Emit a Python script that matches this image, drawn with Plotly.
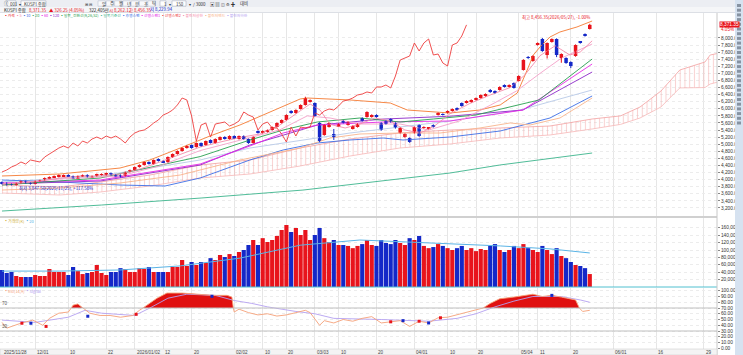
import plotly.graph_objects as go

# ---------------- data ----------------
OPEN = [3932,3904,3876,3848,3904,3960,3904,3876,3960,3988,4045,4073,4073,4101,4130,4101,4045,4101,4130,4073,
        4101,4130,4130,4186,4130,4130,4101,4215,4271,4355,4412,4497,4440,4582,4525,4497,4638,4723,4808,4892,
        4977,4920,5034,4977,5118,5034,5118,5203,5147,5231,5147,5231,5147,5034,5373,5316,5345,5401,5486,5599,
        5684,5938,5882,5994,6108,6192,6164,5599,5260,5486,5288,5514,5655,5542,5430,5486,5740,5768,5768,5825,
        5599,5655,5712,5599,5316,5203,5175,5316,5542,5458,5430,5542,5825,5853,5882,5938,6022,6164,6164,6192,
        6249,6305,6362,6531,6503,6531,6672,6616,6729,6785,7096,7463,7350,7802,7972,7520,7887,7972,7435,7435,
        7322,7491,7887,8113,8254]
HIGH = [3950,3925,3890,3915,3975,3975,3920,3975,4000,4060,4090,4115,4145,4145,4150,4115,4115,4145,4150,4115,
        4170,4175,4200,4200,4150,4145,4230,4285,4370,4430,4510,4515,4570,4600,4540,4655,4740,4825,4910,4965,
        4990,5050,5050,5105,5135,5165,5220,5225,5250,5250,5245,5250,5160,5220,5390,5390,5415,5500,5615,5700,
        5845,5960,5985,6125,6340,6265,6180,5620,5560,5615,5430,5590,5675,5645,5530,5590,5760,5930,5845,5845,
        5620,5675,5730,5620,5475,5305,5190,5500,5560,5505,5475,5560,5900,5870,5955,6010,6040,6180,6240,6265,
        6320,6405,6435,6560,6520,6635,6690,6690,6745,6945,7400,7490,7510,7875,8000,7875,7990,7990,7565,7455,
        7340,7820,7905,8130,8400]
LOW = [3860,3830,3835,3830,3890,3890,3860,3860,3945,3975,4030,4060,4060,4085,4085,4030,4030,4085,4060,4060,
       4085,4115,4115,4115,4085,4060,4085,4200,4255,4340,4395,4425,4425,4510,4480,4480,4620,4705,4790,4875,
       4875,4905,4930,4960,5020,5020,5105,5130,5130,5160,5130,5130,5010,5020,5300,5300,5330,5385,5470,5585,
       5670,5860,5865,5980,6090,6175,5780,5060,5240,5470,5120,5500,5585,5525,5415,5470,5640,5750,5750,5750,
       5380,5555,5610,5440,5300,5185,5040,5300,5210,5440,5415,5470,5810,5810,5865,5920,5950,6060,6150,6175,
       6235,6290,6345,6450,6430,6515,6600,6600,6570,6770,7080,7410,7330,7785,7610,7420,7870,7460,7300,7270,
       7150,7470,7840,8040,8240]
CLOSE = [3876,3848,3848,3904,3960,3904,3876,3960,3988,4045,4073,4101,4130,4130,4101,4045,4101,4130,4073,4101,
         4158,4158,4186,4130,4101,4073,4215,4271,4355,4412,4497,4440,4554,4525,4497,4638,4723,4808,4892,4949,
         4892,5034,4949,5090,5034,5147,5203,5147,5231,5175,5231,5147,5034,5203,5316,5373,5401,5486,5599,5684,
         5825,5882,5966,6108,6305,6249,5797,5090,5542,5599,5203,5570,5599,5627,5514,5570,5655,5910,5825,5768,
         5401,5570,5627,5458,5458,5288,5062,5486,5231,5486,5458,5486,5882,5825,5938,5994,5966,6079,6220,6249,
         6305,6390,6418,6475,6446,6616,6616,6672,6588,6926,7378,7435,7491,7859,7633,7859,7972,7520,7548,7294,
         7209,7802,7859,8056,8371]
VOLUME = [46000,37800,40500,29700,27000,27000,27000,32400,29700,29700,48600,40500,40500,40500,32400,54000,43000,35000,37800,40500,
          59500,37800,32400,40500,40500,51000,48600,40500,40500,51000,48600,54000,40500,40500,40500,40500,54000,54000,73000,56800,
          67600,59500,67600,65000,78000,73000,86500,81000,89000,83800,94600,100000,113500,127000,113500,132000,121600,127000,138000,154000,
          167600,148600,159500,140500,154000,127000,140500,159500,132000,121600,127000,113500,113500,111000,105000,111000,116000,127000,113500,111000,
          127000,119000,116000,127000,119000,113500,132000,127000,138000,111000,105000,108000,116000,111000,105000,100000,105000,111000,100000,105000,
          97000,102700,100000,111000,116000,100000,94600,100000,111000,105000,116000,105000,100000,94600,111000,100000,89000,105000,83800,78000,
          67600,59500,56800,51000,35000]
CHIKOU_SHIFT = 26   # lagging span = closes drawn 26 bars back

# indicator lines: knot index positions and values
BBU_X = [0,12.2,24.9,31.2,37.6,43.9,50.2,56.5,62.9,64.4,73.4,81.9,85.5,94.5,100.8,105.1,108.7,110.8,112.1,113.5,115.6,117.7,121.3,124.5]
BBU_Y = [4102,4158,4327,4554,4892,5232,5542,5910,6277,6305,6249,6164,5966,5881,5966,6108,6446,7096,7520,7746,8028,8169,8311,8480]
BBL_X = [0,12.2,24.9,37.6,50.2,62.9,69.2,75.5,83.9,92.4,100.8,107.2,111.4,117.7,124.5]
BBL_Y = [3706,3762,3904,4130,4554,4892,5175,5288,5316,5316,5458,5600,5542,5740,6305]
MA5_X = [0,4,8,12.2,16.5,20.7,24.9,29.1,33.3,37.6,41.8,46,50.2,54.4,58.6,62.9,65,67.1,69.2,72.4,75.5,78.7,81.9,85,88.2,91.3,94.5,98.7,103,107.2,110.3,113.5,116.7,119.8,122,124.5]
MA5_Y = [3876,3904,3960,4045,4101,4101,4158,4300,4497,4720,4920,5060,5190,5288,5540,5940,6136,5966,5560,5458,5570,5740,5655,5401,5316,5520,5860,6150,6390,6600,6954,7500,7780,7520,7605,7920]
MA10_X = [0,12.2,24.9,33.3,41.8,50.2,58.6,64.4,69.2,75.5,84,90,96.6,103,108.5,113.5,118,124.5]
MA10_Y = [3876,4016,4101,4390,4820,5119,5405,5800,5740,5570,5570,5400,5660,6100,6500,7000,7430,7830]
MA20_X = [0,20.7,41.8,52.3,59.3,66.5,75.5,84,91,100,113.3,124.5]
MA20_Y = [3847,4045,4650,5119,5401,5627,5740,5627,5712,5825,6249,7406]
MA60_X = [0,20.7,41.8,52.3,59.3,66.5,80.4,94.5,109.9,124.5]
MA60_Y = [3904,3988,4440,4949,5316,5542,5627,5655,5966,7265]
MA120_X = [0,20.7,41.8,52.3,66.5,80.4,94.5,109.9,124.5]
MA120_Y = [3876,3960,4412,4977,5540,5710,5790,5966,7039]
KIJUN_X = [0,12.2,24.9,34.4,41.8,52.3,59.3,66.5,73.4,80.4,84.6,94.5,105.1,115.6,124.5]
KIJUN_Y = [3988,3932,3847,3819,4045,4554,4836,5034,5119,5175,5119,5203,5373,5740,6362]
LIGHT_X = [0,20.7,41.8,52.3,73.4,94.5,109.3,124.5]
LIGHT_Y = [3932,4102,4554,4892,5316,5655,5966,6531]
LONG_X = [0,21,42,63.5,94.5,105,124.5]
LONG_Y = [3112,3282,3480,3705,4186,4412,4751]
CLOUD_X = [0,12.2,20.7,31.2,41.8,52.3,62.9,73.4,83.9,94.5,105.1,115.6,124.5,130.5,134.6,139,143,146.2,148.3,149.4,150.84]
SPAN_A = [3847,3791,3932,4130,4412,4554,4892,5147,5316,5401,5458,5514,5712,5800,6050,6500,7096,7237,7322,7520,7560]
SPAN_B = [3621,3565,3649,3819,4045,4158,4384,4666,4892,5005,5175,5260,5430,5560,5740,6050,6590,6600,6600,6700,6750]
VOLMA_X = [0,12.2,24.9,37.6,50.2,62.9,75.5,92.4,105.1,115.6,124]
VOLMA_Y = [43000,43000,46000,57000,78000,113000,127000,119000,111000,103000,92000]
RSI_X = [0,1,3.8,6.5,8.6,10,12,14,14.6,15,16,17,18.5,20.7,22.8,25,27.6,29,29.8,30.6,32.7,34.8,38,41.8,44.5,47.5,48.5,48.8,49,
         50,52,54,56,58,60,62,64,65,66,67,68,70,72,74,76,78,80,82,84,86,88,90,92,94,96,98,100,101.5,103,105,108,110,112,114,116,118,120,121,121.8,122.5,124]
RSI_Y = [45,35,43,49,40,52,61,63,70,75,77,70,61,57,57,54,57,66,70,75,87,96,96,94,92,92,89,70,63,
         68,62,58,60,56,58,62,66,62,50,40,48,44,50,47,52,55,44,46,48,38,47,44,53,54,58,62,66,70,78,86,89,92,94,90,92,89,86,84,70,64,66]
SIG_X = [0,7,14,17.5,21,28,31.2,35,39,45,49,52.7,56,62,66,70,80,90,96,100,104,108,112,118,122,124]
SIG_Y = [49,45,54,66,61,57,70,87,94,92,83,78,72,64,60,52,50,47,52,60,72,82,90,90,84,80]
SIGNAL_UP_X = [4.2, 9.3, 28.3, 82, 88, 92.5]
SIGNAL_UP_Y = [43.5, 38, 59, 46, 47, 53]
SIGNAL_DN_X = [6.1, 18.1, 44.3, 84.6, 90, 116]
SIGNAL_DN_Y = [43.5, 55.7, 90.4, 48, 44, 92]

DATE_LABELS = ["2025/11/28","12/01","10","22","2026/01/02","12","20","02/02","10","20","03/03","10","20",
               "04/01","10","20","05/04","11","20","06/01","16","29"]
DATE_POS = [0,7,14,22,28,34,40,49,55,60,66,71,79,87,94,100,109,113,120,129,138,148]
PRICE_TICKS = [3200,3400,3600,3800,4000,4200,4400,4600,4800,5000,5200,5400,5600,5800,6000,6200,6400,6600,6800,7000,7200,7400,7600,7800,8000]
VOL_TICKS = [20000,40000,60000,80000,100000,120000,140000,160000]
OSC_TICKS = [0,10,20,30,40,50,60,70,80,90,100]

RED = '#e8141c'
BLUE = '#1428c8'
H_PLOT = 336.0   # plot-area height in px (t=13, b=6)
W_PLOT = 717.0

def py(px):
    return (349 - px) / H_PLOT

def pxx(px):
    return px / W_PLOT

fig = go.Figure()
n = len(CLOSE)
idx = list(range(n))
up = [c >= o for o, c in zip(OPEN, CLOSE)]
ccol = [RED if u else BLUE for u in up]

# cloud (span B first, A filled to it)
fig.add_trace(go.Scatter(x=CLOUD_X, y=SPAN_B, mode='lines', line=dict(color='#f6b8b8', width=0.8), hoverinfo='skip'))
fig.add_trace(go.Scatter(x=CLOUD_X, y=SPAN_A, mode='lines', line=dict(color='#f3a0a0', width=0.8), fill='tonexty',
                         fillcolor='rgba(255,255,255,0)',
                         fillpattern=dict(shape='|', fgcolor='#f4a6a6', bgcolor='rgba(255,255,255,0)', size=4.74, solidity=0.22),
                         hoverinfo='skip'))

def line(xs, ys, color, w=0.9):
    fig.add_trace(go.Scatter(x=xs, y=ys, mode='lines', line=dict(color=color, width=w), hoverinfo='skip'))

line(LONG_X, LONG_Y, '#3cb48c')
line(LIGHT_X, LIGHT_Y, '#b8cae8')
line(KIJUN_X, KIJUN_Y, '#3c6ee6')
line(MA120_X, MA120_Y, '#8c28c8')
line(MA60_X, MA60_Y, '#e628e6')
line(MA20_X, MA20_Y, '#28a050')
line(BBL_X, BBL_Y, '#f8b48c')
line(BBU_X, BBU_Y, '#f57a32')
line(MA10_X, MA10_Y, '#f4a0c8')
line(MA5_X, MA5_Y, '#f58caa')
chik_x = [i - CHIKOU_SHIFT for i in idx if i >= CHIKOU_SHIFT]
chik_y = [CLOSE[i] for i in idx if i >= CHIKOU_SHIFT]
line(chik_x, chik_y, '#ee3c3c')

# candles: wicks + bodies
for flag, col in ((True, RED), (False, BLUE)):
    wx, wy = [], []
    for i in idx:
        if up[i] == flag:
            wx += [i, i, None]
            wy += [LOW[i], HIGH[i], None]
    fig.add_trace(go.Scatter(x=wx, y=wy, mode='lines', line=dict(color=col, width=1), hoverinfo='skip'))
fig.add_trace(go.Bar(x=idx, y=[max(abs(c - o), 12) for o, c in zip(OPEN, CLOSE)],
                     base=[min(o, c) for o, c in zip(OPEN, CLOSE)], width=0.74,
                     marker=dict(color=ccol, line=dict(width=0)), hoverinfo='skip'))

# volume
fig.add_trace(go.Bar(x=idx, y=VOLUME, width=0.88, marker=dict(color=ccol, line=dict(width=0)),
                     xaxis='x2', yaxis='y2', hoverinfo='skip'))
fig.add_trace(go.Scatter(x=VOLMA_X, y=VOLMA_Y, mode='lines', line=dict(color='#5ab4e6', width=1),
                         xaxis='x2', yaxis='y2', hoverinfo='skip'))

# oscillator
rsi_clip = [max(v, 70) for v in RSI_Y]
fig.add_trace(go.Scatter(x=RSI_X, y=[70] * len(RSI_X), mode='lines', line=dict(width=0, color='rgba(0,0,0,0)'),
                         xaxis='x3', yaxis='y3', hoverinfo='skip'))
fig.add_trace(go.Scatter(x=RSI_X, y=rsi_clip, mode='lines', line=dict(width=0, color='rgba(0,0,0,0)'),
                         fill='tonexty', fillcolor='#e01010', xaxis='x3', yaxis='y3', hoverinfo='skip'))
fig.add_trace(go.Scatter(x=SIG_X, y=SIG_Y, mode='lines', line=dict(color='#b4a0f0', width=0.9),
                         xaxis='x3', yaxis='y3', hoverinfo='skip'))
fig.add_trace(go.Scatter(x=RSI_X, y=RSI_Y, mode='lines', line=dict(color='#f5a078', width=0.9),
                         xaxis='x3', yaxis='y3', hoverinfo='skip'))
fig.add_trace(go.Scatter(x=SIGNAL_UP_X, y=SIGNAL_UP_Y, mode='markers', marker=dict(symbol='square', size=3, color=RED),
                         xaxis='x3', yaxis='y3', hoverinfo='skip'))
fig.add_trace(go.Scatter(x=SIGNAL_DN_X, y=SIGNAL_DN_Y, mode='markers', marker=dict(symbol='square', size=3, color=BLUE),
                         xaxis='x3', yaxis='y3', hoverinfo='skip'))

XR = [-0.42, 150.84]
grid = '#e6e6e6'
xcommon = dict(range=XR, showticklabels=False, tickvals=DATE_POS[1:], showgrid=True, gridcolor=grid,
               gridwidth=1, zeroline=False, showline=False, ticks='')
ycommon = dict(side='right', ticks='outside', ticklen=2, tickcolor='#888',
               tickfont=dict(size=4.8, color='#333', family='Liberation Sans'),
               showgrid=True, gridcolor='#ececec', griddash='dot', zeroline=False, showline=False)

fig.update_layout(
    width=743, height=355, margin=dict(l=0, r=26, t=13, b=6),
    paper_bgcolor='white', plot_bgcolor='white', showlegend=False, barmode='overlay',
    font=dict(family='Noto Sans CJK KR', size=5, color='#333'),
    xaxis=dict(anchor='y', domain=[0, 1], **xcommon),
    xaxis2=dict(anchor='y2', domain=[0, 1], matches='x', **xcommon),
    xaxis3=dict(anchor='y3', domain=[0, 1], matches='x', **xcommon),
    yaxis=dict(domain=[py(216), 1], range=[2972, 8706], tickvals=PRICE_TICKS, tickformat=',.2f', **ycommon),
    yaxis2=dict(domain=[py(287), py(218)], range=[0, 186500], tickvals=VOL_TICKS, tickformat=',d', **ycommon),
    yaxis3=dict(domain=[0, py(288)], range=[-1.3, 104.8], tickvals=OSC_TICKS, tickformat='.2f', **ycommon),
)

shapes = []
for pxl in (216.5, 217.5):
    shapes.append(dict(type='line', xref='paper', yref='paper', x0=0, x1=1, y0=py(pxl), y1=py(pxl), line=dict(color='#d0d0d0', width=1)))
shapes.append(dict(type='line', xref='paper', yref='paper', x0=0, x1=1, y0=py(287), y1=py(287), line=dict(color='#50c0d0', width=1)))
shapes.append(dict(type='line', xref='paper', yref='paper', x0=1, x1=1, y0=py(355), y1=1.0, line=dict(color='#c8c8c8', width=1)))
shapes.append(dict(type='rect', xref='paper', yref='paper', x0=0, x1=1, y0=py(355), y1=py(349), fillcolor='#f4f4f4',
                   line=dict(color='#d0d0d0', width=0.6)))
for v in (70, 30):
    shapes.append(dict(type='line', xref='paper', yref='y3', x0=0, x1=1, y0=v, y1=v, line=dict(color='#c0c0c0', width=1.2)))
# header backgrounds
shapes.append(dict(type='rect', xref='paper', yref='paper', x0=-0.01, x1=1.04, y0=py(7), y1=py(-1), fillcolor='#eceef3', line=dict(width=0)))
shapes.append(dict(type='rect', xref='paper', yref='paper', x0=-0.01, x1=1.04, y0=py(12.5), y1=py(7), fillcolor='#f5f6f8', line=dict(width=0)))
shapes.append(dict(type='line', xref='paper', yref='paper', x0=-0.01, x1=1.04, y0=py(12.5), y1=py(12.5), line=dict(color='#d4d8e0', width=0.8)))
# toolbar input boxes (row 1)
for a, b in ((7, 16), (21, 46), (160, 166), (172, 186)):
    shapes.append(dict(type='rect', xref='paper', yref='paper', x0=pxx(a), x1=pxx(b), y0=py(6.2), y1=py(0.8),
                       fillcolor='white', line=dict(color='#a8b0c0', width=0.6)))
for k in range(7):
    a = 98 + k * 8.3
    shapes.append(dict(type='rect', xref='paper', yref='paper', x0=pxx(a), x1=pxx(a + 7.3), y0=py(6.2), y1=py(0.8),
                       fillcolor='#f8f9fb', line=dict(color='#b0b8c8', width=0.5)))
# right tool strip + icons
shapes.append(dict(type='rect', xref='paper', yref='paper', x0=pxx(735), x1=pxx(745), y0=py(356), y1=py(-1), fillcolor='#d6e2f0', line=dict(width=0)))
for k in range(26):
    yy = 4 + k * 4.7
    shapes.append(dict(type='rect', xref='paper', yref='paper', x0=pxx(737), x1=pxx(741), y0=py(yy + 3), y1=py(yy),
                       fillcolor='#6c7888', line=dict(width=0), opacity=0.75))
fig.update_layout(shapes=shapes)

ann = []
for lab, pos in zip(DATE_LABELS, DATE_POS):
    ann.append(dict(x=pos, y=py(352.2), xref='x3', yref='paper', text=lab, showarrow=False, xanchor='left', yanchor='middle',
                    font=dict(size=4.6, color='#444', family='Liberation Sans')))
for v in (70, 30):
    ann.append(dict(x=0, y=v, xref='paper', yref='y3', text=str(v), showarrow=False, xanchor='left', yanchor='bottom',
                    font=dict(size=4.6, color='#555', family='Liberation Sans')))
ann.append(dict(x=124.5, y=py(18), xref='x', yref='paper', text='최고 8,456.35(2026/05/27), -1.00%', showarrow=False,
                xanchor='right', yanchor='middle', font=dict(size=4.4, color=RED)))
ann.append(dict(x=3.2, y=3740, xref='x', yref='y', text='최저 3,847.50(2025/11/25), +117.58%', showarrow=False,
                xanchor='left', yanchor='middle', font=dict(size=4.4, color=BLUE)))
ann.append(dict(x=1.003, y=CLOSE[-1], xref='paper', yref='y', text='8,371.35', showarrow=False, xanchor='left',
                bgcolor=RED, borderpad=0, font=dict(size=4.8, color='white', family='Liberation Sans')))
ann.append(dict(x=1.003, y=CLOSE[-1], xref='paper', yref='y', text='4.05%', showarrow=False, xanchor='left', yshift=-5,
                font=dict(size=4.6, color=RED, family='Liberation Sans')))
row1 = [(1.5, 'ⓘ'), (8, '001'), (17, '▾'), (22, 'KOSPI 종합'), (83, '⊞ ⊟'), (100, '일'), (108.3, '주'), (116.6, '월'),
        (124.9, '년'), (133.2, '분'), (141.5, '초'), (149.8, '틱'), (162, '1'), (167, '▾'), (174, '150'), (187, '▾'),
        (191, '/ 3000'), (208, '▣ ▤ ◫ ⚙ ✚'), (238, '대비')]
for xp, t in row1:
    ann.append(dict(x=pxx(xp), y=py(3.6), xref='paper', yref='paper', text=t, showarrow=False, xanchor='left',
                    yanchor='middle', font=dict(size=4.4, color='#333')))
row2 = [(2, 'KOSPI 종합', '#222'), (27, '8,371.35', RED), (47, '▲ 326.25 (4.05%)', RED), (87, '322,405만', '#222'),
        (107, '시 8,262.12', RED), (127, '고 8,456.35', RED), (148, '저 8,229.94', BLUE)]
for xp, t, c in row2:
    ann.append(dict(x=pxx(xp), y=py(9.8), xref='paper', yref='paper', text=t, showarrow=False, xanchor='left',
                    yanchor='middle', font=dict(size=4.4, color=c)))
ann.append(dict(x=0.003, y=py(15.6), xref='paper', yref='paper',
                text='<span style="color:#e8141c">▪가격</span> <span style="color:#f58caa">▪5</span> <span style="color:#3c6ee6">▪10</span> <span style="color:#28a050">▪20</span> <span style="color:#e628e6">▪60</span> <span style="color:#8c28c8">▪120</span> <span style="color:#28a050">▪일목_전환선(9,26,52)</span> <span style="color:#3cb48c">▪일목기준선</span> <span style="color:#3c6ee6">▪후행스팬</span> <span style="color:#e628e6">▪선행스팬1</span> <span style="color:#ee3c3c">▪선행스팬2</span> <span style="color:#f58caa">▪볼린저상한</span> <span style="color:#f8b48c">▪볼린저밴드</span> <span style="color:#b4a0f0">▪볼린저하한</span>',
                showarrow=False, xanchor='left', yanchor='middle', font=dict(size=3.8, color='#333')))
ann.append(dict(x=0.003, y=py(220.5), xref='paper', yref='paper',
                text='<span style="color:#d0b040">▪거래량(K)</span> <span style="color:#5ab4e6">▪20</span>',
                showarrow=False, xanchor='left', yanchor='middle', font=dict(size=4.0)))
ann.append(dict(x=0.003, y=py(290.5), xref='paper', yref='paper',
                text='<span style="color:#f5a078">▪RSI(14,9)</span> <span style="color:#b4a0f0">▪Signal</span>',
                showarrow=False, xanchor='left', yanchor='middle', font=dict(size=4.0)))
fig.update_layout(annotations=ann)

fig.write_html('out.html')
